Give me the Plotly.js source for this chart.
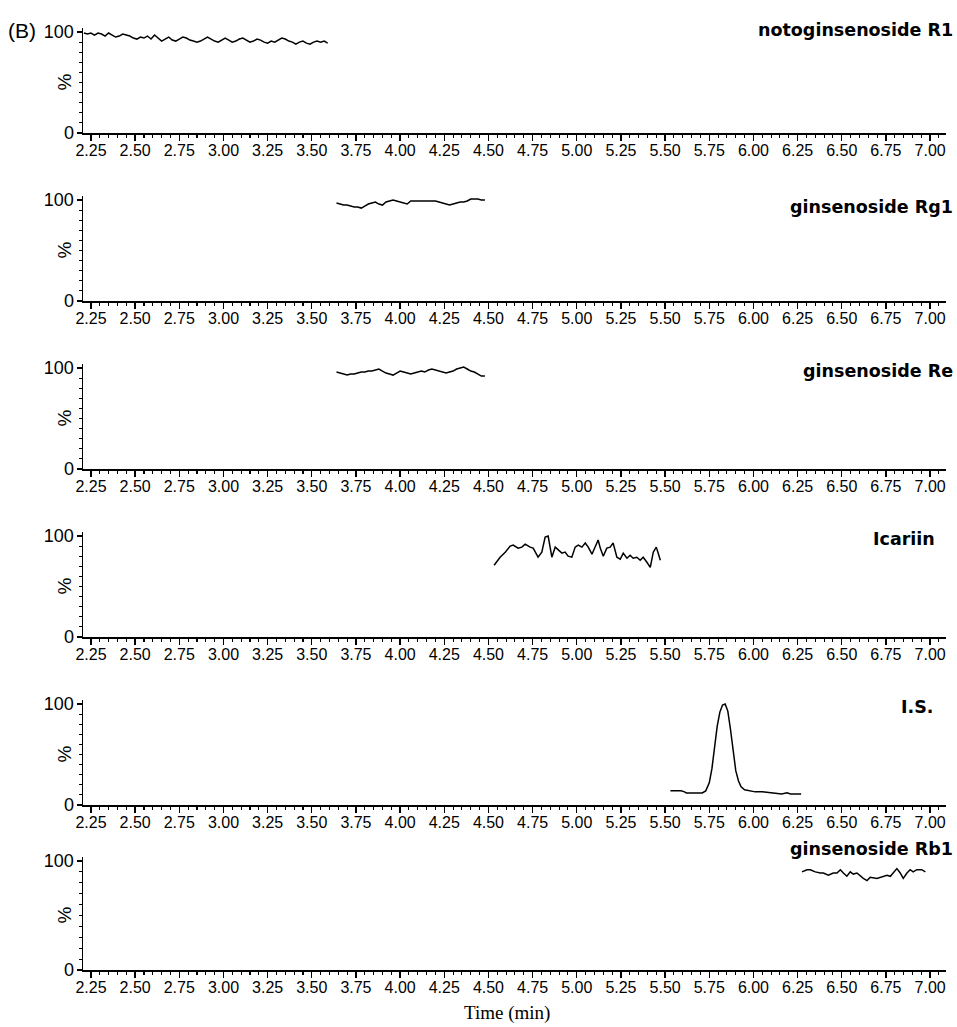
<!DOCTYPE html>
<html>
<head>
<meta charset="utf-8">
<script src="https://cdn.plot.ly/plotly-3.0.1.min.js"></script>
<style>
  html, body { margin: 0; padding: 0; background: #fff; }
  #chart { width: 957px; height: 1027px; }
</style>
</head>
<body>
<div id="chart"></div>
<script>
// Extracted-ion chromatograms, relative abundance (%) vs retention time (min)

const panelNames = ['notoginsenoside R1', 'ginsenoside Rg1', 'ginsenoside Re', 'Icariin', 'I.S.', 'ginsenoside Rb1'];

const timeTicks = [2.25, 2.50, 2.75, 3.00, 3.25, 3.50, 3.75, 4.00, 4.25, 4.50, 4.75, 5.00,
                   5.25, 5.50, 5.75, 6.00, 6.25, 6.50, 6.75, 7.00];
const timeTickText = ['2.25', '2.50', '2.75', '3.00', '3.25', '3.50', '3.75', '4.00', '4.25', '4.50',
                      '4.75', '5.00', '5.25', '5.50', '5.75', '6.00', '6.25', '6.50', '6.75', '7.00'];
const pctTicks = [0, 100];
const pctTickText = ['0', '100'];

// notoginsenoside R1
const r1Time = [2.21, 2.23, 2.25, 2.27, 2.29, 2.31, 2.33, 2.35, 2.37, 2.39, 2.41, 2.43, 2.45, 2.47,
                2.49, 2.51, 2.53, 2.55, 2.57, 2.59, 2.61, 2.63, 2.65, 2.67, 2.69, 2.71, 2.73, 2.75,
                2.77, 2.79, 2.81, 2.83, 2.85, 2.87, 2.89, 2.91, 2.93, 2.95, 2.97, 2.99, 3.01, 3.03,
                3.05, 3.07, 3.09, 3.11, 3.13, 3.15, 3.17, 3.19, 3.21, 3.23, 3.25, 3.27, 3.29, 3.31,
                3.33, 3.35, 3.37, 3.39, 3.41, 3.43, 3.45, 3.47, 3.49, 3.51, 3.53, 3.55, 3.57, 3.59];
const r1Pct = [99, 98, 99, 97, 99, 98, 96, 99, 97, 95, 96, 98, 97, 96,
               94, 93, 95, 94, 96, 93, 97, 94, 91, 93, 95, 92, 91, 93,
               95, 94, 92, 91, 90, 91, 93, 95, 93, 91, 90, 92, 94, 92,
               90, 91, 93, 94, 92, 90, 91, 93, 92, 90, 89, 91, 90, 92,
               94, 93, 91, 90, 88, 90, 91, 89, 88, 90, 91, 90, 91, 89];

// ginsenoside Rg1
const rg1Time = [3.64, 3.66, 3.68, 3.70, 3.72, 3.74, 3.76, 3.78, 3.80, 3.82, 3.84, 3.86, 3.88, 3.90,
                 3.92, 3.94, 3.96, 3.98, 4.00, 4.02, 4.04, 4.06, 4.08, 4.10, 4.12, 4.14, 4.16, 4.18,
                 4.20, 4.22, 4.24, 4.26, 4.28, 4.30, 4.32, 4.34, 4.36, 4.38, 4.40, 4.42, 4.44, 4.46, 4.48];
const rg1Pct = [97, 96, 95, 95, 94, 93, 93, 92, 94, 96, 97, 98, 96, 95,
                98, 99, 100, 99, 98, 97, 96, 99, 99, 99, 99, 99, 99, 99,
                99, 98, 97, 96, 95, 96, 97, 98, 98, 99, 101, 101, 101, 100, 100];

// ginsenoside Re
const reTime = [3.64, 3.66, 3.68, 3.70, 3.72, 3.74, 3.76, 3.78, 3.80, 3.82, 3.84, 3.86, 3.88, 3.90,
                3.92, 3.94, 3.96, 3.98, 4.00, 4.02, 4.04, 4.06, 4.08, 4.10, 4.12, 4.14, 4.16, 4.18,
                4.20, 4.22, 4.24, 4.26, 4.28, 4.30, 4.32, 4.34, 4.36, 4.38, 4.40, 4.42, 4.44, 4.46, 4.48];
const rePct = [96, 95, 94, 93, 94, 94, 95, 96, 96, 97, 97, 98, 99, 97,
               95, 94, 93, 95, 97, 96, 95, 94, 95, 96, 97, 96, 98, 99,
               98, 97, 96, 95, 96, 97, 99, 100, 101, 99, 97, 96, 94, 92, 92];

// Icariin
const icaTime = [4.532, 4.566, 4.595, 4.623, 4.640, 4.668, 4.689, 4.708, 4.736, 4.753, 4.781, 4.802,
                 4.821, 4.838, 4.849, 4.859, 4.878, 4.895, 4.916, 4.934, 4.951, 4.972, 4.991, 5.008,
                 5.029, 5.048, 5.065, 5.086, 5.104, 5.121, 5.133, 5.150, 5.170, 5.189, 5.206, 5.227,
                 5.246, 5.263, 5.284, 5.302, 5.319, 5.340, 5.359, 5.376, 5.397, 5.416, 5.433, 5.450,
                 5.461, 5.473];
const icaPct = [71, 79, 84, 90, 91, 88, 89, 92, 89, 88, 79, 84,
                99, 100, 89, 79, 89, 86, 83, 84, 80, 79, 89, 91,
                89, 93, 89, 82, 89, 96, 88, 80, 88, 89, 93, 79,
                77, 83, 78, 81, 78, 79, 76, 79, 74, 69, 84, 89,
                83, 76];

// Internal standard
const isTime = [5.53, 5.56, 5.59, 5.61, 5.62, 5.65, 5.68, 5.71, 5.73, 5.75, 5.765, 5.78, 5.795, 5.81,
                5.825, 5.84, 5.855, 5.87, 5.885, 5.90, 5.915, 5.93, 5.95, 5.98, 6.01, 6.05, 6.10,
                6.13, 6.16, 6.19, 6.21, 6.24, 6.27];
const isPct = [14, 14, 14, 13, 12, 12, 12, 12, 14, 22, 36, 58, 78, 92,
               99, 100, 93, 75, 52, 34, 24, 18, 15, 14, 13, 13, 12,
               12, 11, 12, 11, 11, 11];

// ginsenoside Rb1
const rb1Time = [6.275, 6.303, 6.322, 6.350, 6.379, 6.396, 6.424, 6.452, 6.473, 6.492, 6.509, 6.529,
                 6.548, 6.565, 6.586, 6.605, 6.622, 6.643, 6.661, 6.699, 6.735, 6.756, 6.775, 6.792,
                 6.812, 6.831, 6.848, 6.869, 6.887, 6.904, 6.925, 6.953, 6.973];
const rb1Pct = [90, 92, 92, 90, 89, 89, 87, 89, 89, 92, 89, 86,
                90, 88, 89, 86, 84, 82, 85, 84, 86, 87, 86, 89,
                93, 89, 84, 89, 92, 90, 92, 92, 90];

const seriesTime = [r1Time, rg1Time, reTime, icaTime, isTime, rb1Time];
const seriesPct = [r1Pct, rg1Pct, rePct, icaPct, isPct, rb1Pct];

// Panel frame geometry in page pixels: y of the 100 % line and the 0 % line
const W = 957, H = 1027;
const panelTop = [32, 200, 368, 536, 704, 861];
const panelBottom = [133, 301, 469, 637, 805, 970];
const plotLeft = 83, plotRight = 946;
const yMax = 104;

// Title placement: right edge x and vertical centre y (pixels)
const titleRight = [955, 955, 955, 937, 935, 955];
const titleY = [30, 207, 371, 539, 707, 849];

const px = x => x / W;
const py = y => 1 - y / H;

const fontSans = 'Arial, Liberation Sans, Helvetica, sans-serif';
const fontTitle = 'DejaVu Sans, Verdana, sans-serif';

const traces = [];
const layout = {
  width: W, height: H,
  margin: {l: 0, r: 0, t: 0, b: 0},
  paper_bgcolor: '#fff', plot_bgcolor: '#fff',
  showlegend: false,
  annotations: [],
  font: {family: fontSans, color: '#000'}
};

for (let k = 0; k < 6; k++) {
  const n = k === 0 ? '' : String(k + 1);
  traces.push({
    x: seriesTime[k], y: seriesPct[k],
    xaxis: 'x' + n, yaxis: 'y' + n,
    type: 'scatter', mode: 'lines',
    line: {color: '#000', width: 1.5},
    hoverinfo: 'skip'
  });

  const top = panelTop[k], bot = panelBottom[k];
  const topPx = top - (yMax - 100) / 100 * (bot - top);
  layout['xaxis' + n] = {
    domain: [px(plotLeft), px(plotRight)],
    anchor: 'y' + n,
    range: [2.205, 7.09],
    showgrid: false, zeroline: false,
    showline: true, linecolor: '#000', linewidth: 1.5,
    tickmode: 'array', tickvals: timeTicks, ticktext: timeTickText,
    ticks: 'outside', ticklen: 6, tickwidth: 1.3, tickcolor: '#000',
    ticklabelstandoff: -4,
    tickfont: {family: fontSans, size: 16, color: '#000'},
    minor: {dtick: 0.05, tick0: 2.25, ticks: 'outside', ticklen: 3.5, tickwidth: 1.1, tickcolor: '#000', showgrid: false},
    fixedrange: true
  };
  layout['yaxis' + n] = {
    domain: [py(bot), py(topPx)],
    anchor: 'x' + n,
    range: [0, yMax],
    showgrid: false, zeroline: false,
    showline: true, linecolor: '#000', linewidth: 1.5,
    tickmode: 'array', tickvals: pctTicks, ticktext: pctTickText,
    ticks: 'outside', ticklen: 5, tickwidth: 1.3, tickcolor: '#000',
    ticklabelstandoff: -1,
    tickfont: {family: fontSans, size: 18, color: '#000'},
    minor: {dtick: 10, tick0: 0, ticks: 'outside', ticklen: 3, tickwidth: 1.1, tickcolor: '#000', showgrid: false},
    fixedrange: true
  };

  // Compound name
  layout.annotations.push({
    xref: 'paper', yref: 'paper',
    x: px(titleRight[k]), y: py(titleY[k]),
    xanchor: 'right', yanchor: 'middle',
    text: '<b>' + panelNames[k] + '</b>', showarrow: false,
    font: {family: fontTitle, size: 17.5, color: '#000'}
  });
  // Rotated "%" axis label
  layout.annotations.push({
    xref: 'paper', yref: 'paper',
    x: px(64), y: py((top + bot) / 2),
    xanchor: 'center', yanchor: 'middle',
    text: '%', textangle: -90, showarrow: false,
    font: {family: fontSans, size: 19, color: '#000'}
  });
}

layout.annotations.push({
  xref: 'paper', yref: 'paper', x: px(6), y: py(31),
  xanchor: 'left', yanchor: 'middle',
  text: '(B)', showarrow: false,
  font: {family: fontSans, size: 21, color: '#000'}
});
layout.annotations.push({
  xref: 'paper', yref: 'paper', x: px(507), y: py(1013),
  xanchor: 'center', yanchor: 'middle',
  text: 'Time (min)', showarrow: false,
  font: {family: 'Liberation Serif, Times New Roman, serif', size: 19, color: '#000'}
});

Plotly.newPlot('chart', traces, layout, {staticPlot: true, displayModeBar: false});
</script>
</body>
</html>
